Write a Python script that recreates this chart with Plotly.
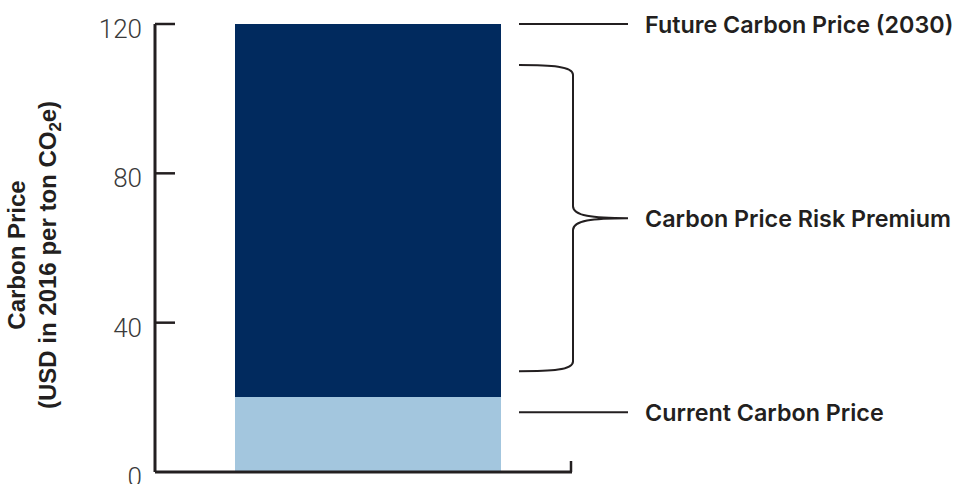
import plotly.graph_objects as go

# --- data -------------------------------------------------------------
category = ["Carbon price"]
current_price = 20          # USD per ton CO2e today
future_price = 120          # USD per ton CO2e in 2030
risk_premium = future_price - current_price

y_ticks = [0, 40, 80, 120]

label_future = "Future Carbon Price (2030)"
label_premium = "Carbon Price Risk Premium"
label_current = "Current Carbon Price"

# y-levels where the callout labels sit
future_label_y = future_price
current_label_y = 16
premium_top, premium_mid, premium_bottom = 109, 68, 27

# --- styling ----------------------------------------------------------
W, H = 956, 484
ML, MR, MT, MB = 155, 0, 14, 2
INK = "#231f20"
DARK = "#012a5e"
LIGHT = "#a3c6de"

# y-axis is padded a little so edge lines are not clipped
px_per_unit = (472 - 24) / 120.0
y_lo = -(H - MB - 472) / px_per_unit
y_hi = 120 + (24 - MT) / px_per_unit

plot_w = W - ML - MR


def px(x):
    """Horizontal pixel -> paper fraction of the plotting area."""
    return (x - ML) / plot_w


bar_center = px(368)
bar_width = px(501) - px(235)

fig = go.Figure()
fig.add_trace(go.Bar(x=[bar_center], y=[current_price], width=[bar_width],
                     marker=dict(color=LIGHT, line=dict(width=0)),
                     name=category[0], hoverinfo="skip"))
fig.add_trace(go.Bar(x=[bar_center], y=[risk_premium], width=[bar_width],
                     marker=dict(color=DARK, line=dict(width=0)),
                     name=category[0], hoverinfo="skip"))

shapes = []
# y-axis spine, bottom spine and its end tick
shapes.append(dict(type="line", xref="paper", yref="y", x0=0, x1=0,
                   y0=y_ticks[0], y1=y_ticks[-1], line=dict(color=INK, width=3)))
shapes.append(dict(type="line", xref="paper", yref="y", x0=0, x1=px(572),
                   y0=0, y1=0, line=dict(color=INK, width=3)))
shapes.append(dict(type="line", xref="paper", yref="y", x0=px(571), x1=px(571),
                   y0=0, y1=11 / px_per_unit, line=dict(color=INK, width=2.5)))
# tick marks pointing into the plot
for t in y_ticks[1:]:
    shapes.append(dict(type="line", xref="paper", yref="y", x0=0, x1=px(175),
                       y0=t, y1=t, line=dict(color=INK, width=2.5)))

# leader lines
for yv in (future_label_y, current_label_y):
    shapes.append(dict(type="line", xref="paper", yref="y", x0=px(519), x1=px(628),
                       y0=yv, y1=yv, line=dict(color=INK, width=2)))

# curly brace for the risk premium
xl, xs, xt = px(519), px(573), px(628)
r = 2.6
path = (
    f"M {xl},{premium_top} "
    f"C {xl + 0.6 * (xs - xl)},{premium_top} {xs},{premium_top - 0.3} {xs},{premium_top - r} "
    f"L {xs},{premium_mid + 3.2} "
    f"C {xs},{premium_mid + 0.6} {xs + 0.35 * (xt - xs)},{premium_mid} {xt},{premium_mid} "
    f"C {xs + 0.35 * (xt - xs)},{premium_mid} {xs},{premium_mid - 0.6} {xs},{premium_mid - 3.2} "
    f"L {xs},{premium_bottom + r} "
    f"C {xs},{premium_bottom + 0.3} {xl + 0.6 * (xs - xl)},{premium_bottom} {xl},{premium_bottom}"
)
shapes.append(dict(type="path", xref="paper", yref="y", path=path,
                   line=dict(color=INK, width=2)))

label_font = dict(family="Inter", size=23.3, color=INK, weight=600)
annotations = []
for text, yv in ((label_future, future_label_y),
                 (label_premium, premium_mid),
                 (label_current, current_label_y)):
    annotations.append(dict(text=text, xref="paper", yref="y", x=px(643), y=yv,
                            xanchor="left", yanchor="middle", showarrow=False,
                            font=label_font))

# rotated y-axis title
annotations.append(dict(
    text="Carbon Price<br>(USD in 2016 per ton CO<sub>2</sub>e)",
    xref="paper", yref="paper", x=px(34), y=(H - MB - 255) / (H - MT - MB),
    xanchor="center", yanchor="middle", textangle=-90, showarrow=False,
    font=dict(family="Liberation Sans", size=24, color=INK, weight=700)))

fig.update_layout(
    width=W, height=H,
    margin=dict(l=ML, r=MR, t=MT, b=MB, autoexpand=False),
    paper_bgcolor="white", plot_bgcolor="white",
    barmode="stack", bargap=0, showlegend=False,
    xaxis=dict(range=[0, 1], visible=False, fixedrange=True, automargin=False),
    yaxis=dict(range=[y_lo, y_hi], tickvals=y_ticks, ticks="",
               showgrid=False, zeroline=False, showline=False,
               automargin=False,
               ticklabelstandoff=12, ticklabelshift=5,
               ticklabeloverflow="allow",
               tickfont=dict(family="Roboto", size=26, color="#3a3a3a", weight=300),
               fixedrange=True),
    shapes=shapes, annotations=annotations,
)

fig.write_html("out.html", config={"displayModeBar": False})
